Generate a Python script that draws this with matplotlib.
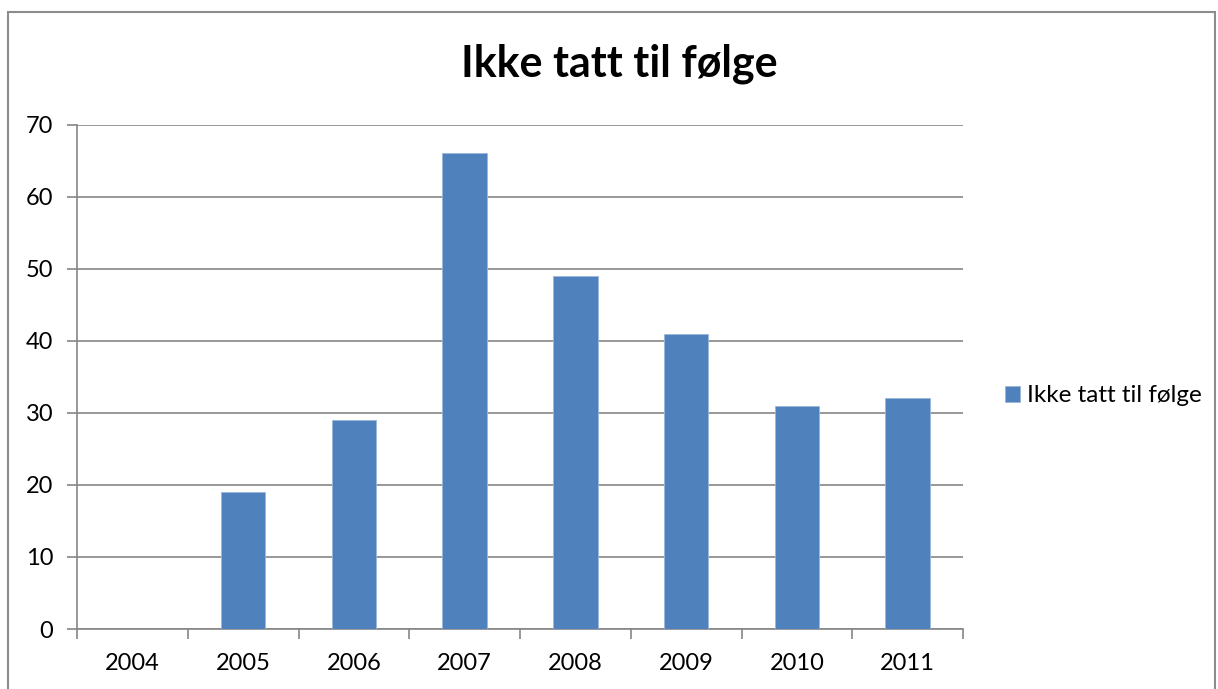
import matplotlib
matplotlib.use("Agg")
import matplotlib.pyplot as plt
from matplotlib.patches import Rectangle
import numpy as np

years = ["2004", "2005", "2006", "2007", "2008", "2009", "2010", "2011"]
values = [0, 19, 29, 66, 49, 41, 31, 32]
series_name = "Ikke tatt til følge"
title = "Ikke tatt til følge"
yticks = [0, 10, 20, 30, 40, 50, 60, 70]

W, H = 1218, 689
plt.rcParams['font.family'] = ['Lato', 'DejaVu Sans']
fig = plt.figure(figsize=(W / 100, H / 100), dpi=100)
fig.patch.set_facecolor("white")

# outer chart border
fig.patches.append(Rectangle((8 / W, -0.05), (1215 - 8) / W, 1.05 - 12 / H,
                             transform=fig.transFigure, fill=False,
                             edgecolor="#8c8c8c", linewidth=1.5))

left, right, top, bottom = 77, 963, 124.5, 629
ax = fig.add_axes([left / W, (H - bottom) / H, (right - left) / W, (bottom - top) / H])

x = np.arange(len(years))
grid_c = "#868686"
ax.bar(x, values, width=0.4, color="#4F81BD", edgecolor="#9bb7d9", linewidth=0.6,
       label=series_name, zorder=3)

ax.set_xlim(-0.5, len(years) - 0.5)
ax.set_ylim(0, 70)
ax.set_yticks(yticks)
ax.set_yticklabels([str(v) for v in yticks])
ax.yaxis.grid(True, color=grid_c, linewidth=1.2, zorder=0)
ax.set_axisbelow(True)

ax.set_xticks(np.arange(-0.5, len(years), 1.0))
ax.set_xticklabels([])
ax.set_xticks(x, minor=True)
ax.set_xticklabels(years, minor=True)
ax.tick_params(axis="x", which="major", length=7, width=1.2, color=grid_c, direction="out")
ax.tick_params(axis="x", which="minor", length=0, pad=17, labelsize=17)
ax.tick_params(axis="y", length=7, width=1.2, color=grid_c, direction="out", pad=10, labelsize=17)

for s in ["top", "right"]:
    ax.spines[s].set_visible(False)
for s in ["left", "bottom"]:
    ax.spines[s].set_color(grid_c)
    ax.spines[s].set_linewidth(1.2)

fig.text(619 / W, 1 - 77 / H, title, ha="center", va="baseline",
         fontsize=31, fontweight="bold")

leg = fig.legend(loc="center left", bbox_to_anchor=(1005 / W, 1 - 396 / H),
                 frameon=False, fontsize=17.5, handlelength=0.62, handleheight=0.62,
                 handletextpad=0.3, borderaxespad=0, borderpad=0)

fig.savefig("out.png", dpi=100, facecolor="white")
